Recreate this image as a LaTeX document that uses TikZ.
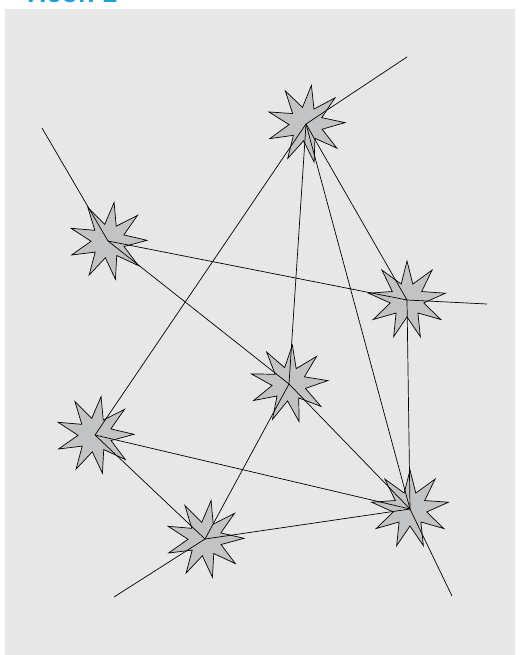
\documentclass[tikz,border=0pt]{standalone}
\usepackage{fontspec}
\setsansfont{Liberation Sans}
\usetikzlibrary{shapes.geometric}
\definecolor{panel}{HTML}{E6E7E6}
\definecolor{starfill}{HTML}{C2C3C5}
\definecolor{headblue}{HTML}{1AA0DC}

\begin{document}
\begin{tikzpicture}[x=1pt,y=-1pt,
    burst/.style={star,star points=9,star point ratio=2.3,minimum size=78pt,inner sep=0pt,
        draw=black,line width=0.7pt,fill=starfill}]
        \useasboundingbox (0,0) rectangle (520,655);
        \fill[panel] (5,9) rectangle (515,655);
        \node[anchor=base west,inner sep=0pt,text=headblue,
            font=\sffamily\bfseries\fontsize{27}{27}\selectfont] (title) at (27,3) {Heoh 1};
        % the seven stars
        \node[burst,shape border rotate=-8] (A) at (306,124) {};
        \node[burst,shape border rotate=-9] (B) at (108,241) {};
        \node[burst] (C) at (407,300) {};
        \node[burst,shape border rotate=-5] (D) at (289,384) {};
        \node[burst,shape border rotate=-9] (E) at (95,435) {};
        \node[burst,shape border rotate=-9] (F) at (205,539) {};
        \node[burst] (G) at (410,509) {};
        % loose ends
        \coordinate (endA) at (407,57);
        \coordinate (endB) at (42,128);
        \coordinate (endC) at (487,304);
        \coordinate (endF) at (114,597);
        \coordinate (endG) at (452,596);
        \foreach \a/\b in {A/endA,A/E,A/D,A/G,A/C,B/endB,B/C,C/endC,B/D,D/G,D/F,C/G,E/G,E/F,F/G,F/endF,G/endG} {
            \draw[line width=0.7pt] (\a.center) -- (\b.center);
        }
    \end{tikzpicture}
\end{document}
